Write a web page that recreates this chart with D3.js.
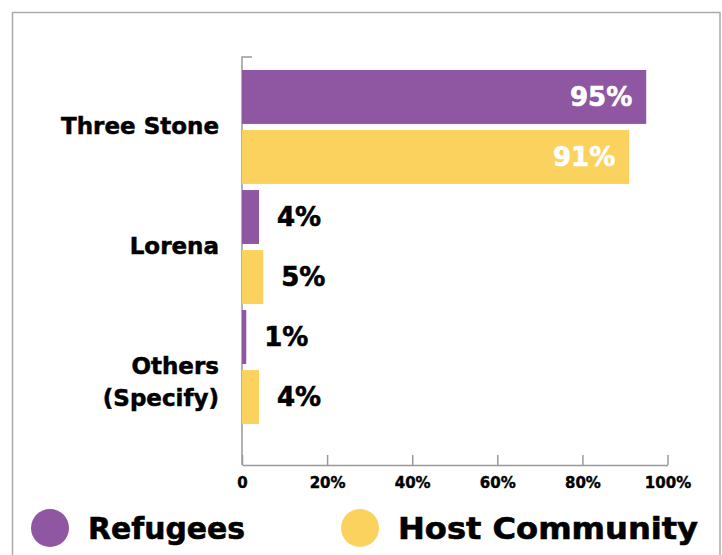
<!DOCTYPE html>
<html><head><meta charset="utf-8">
<script src="https://cdn.jsdelivr.net/npm/d3@7"></script>
<style>
body{margin:0;background:#fff;}
text{font-family:"DejaVu Sans",sans-serif;font-weight:bold;}
</style></head>
<body><svg id="c" width="722" height="555"></svg>
<script>
const categories = ["Three Stone","Lorena","Others (Specify)"];
const categoryLines = [["Three Stone"],["Lorena"],["Others","(Specify)"]];
const seriesNames = ["Refugees","Host Community"];
const refugees = [95,4,1];
const hostCommunity = [91,5,4];
const tickValues = [0,20,40,60,80,100];
const tickLabels = ["0","20%","40%","60%","80%","100%"];
const colors = ["#8F56A1","#FCD25F"];

const svg = d3.select("#c");
svg.append("rect").attr("x",12.5).attr("y",12.5).attr("width",707.5).attr("height",560)
  .attr("fill","none").attr("stroke","#aaa").attr("stroke-width",1.5);

const x = d3.scaleLinear().domain([0,100]).range([242,667.5]);
const yTop = 57, yBottom = 465;
const rows = [];
categories.forEach((c,i)=>{
  rows.push({cat:c,s:0,v:refugees[i],key:c+"|0"});
  rows.push({cat:c,s:1,v:hostCommunity[i],key:c+"|1"});
});
const yRow = d3.scaleBand().domain(rows.map(r=>r.key)).range([70,70+59*6]).paddingInner(6/59).paddingOuter(0);

// x axis
const xAxis = d3.axisBottom(x).tickValues(tickValues).tickFormat((d,i)=>tickLabels[i]).tickSize(0);
const gx = svg.append("g").attr("transform",`translate(0,${yBottom})`).call(xAxis);
gx.select(".domain").attr("stroke","#999").attr("stroke-width",1.5);
gx.selectAll(".tick text").attr("font-size",15).attr("fill","#000").attr("stroke","#000").attr("stroke-width",0.4).attr("dy","1.3em");
gx.selectAll(".tick").append("line").attr("y1",0).attr("y2",-10).attr("stroke","#999").attr("stroke-width",1.5);

// y axis line
svg.append("path").attr("d",`M252,${yTop}H${x(0)}V${yBottom}`).attr("fill","none").attr("stroke","#999").attr("stroke-width",1.5);

// bars
svg.selectAll("rect.bar").data(rows).join("rect").attr("class","bar")
  .attr("x",x(0)).attr("y",d=>yRow(d.key)).attr("width",d=>x(d.v)-x(0)).attr("height",yRow.bandwidth())
  .attr("fill",d=>colors[d.s]);

// value labels
svg.selectAll("text.val").data(rows).join("text").attr("class","val")
  .attr("x",d=>d.v>50 ? x(d.v)-14 : x(d.v)+18)
  .attr("y",d=>yRow(d.key)+yRow.bandwidth()/2)
  .attr("dy","0.36em")
  .attr("text-anchor",d=>d.v>50?"end":"start")
  .attr("font-size",26)
  .attr("fill",d=>d.v>50?"#fff":"#000")
  .attr("stroke",d=>d.v>50?"#fff":"#000").attr("stroke-width",0.6)
  .text(d=>d.v+"%");

// category labels
categories.forEach((c,i)=>{
  const yc = yRow(c+"|0") + (yRow(c+"|1")+yRow.bandwidth()-yRow(c+"|0"))/2;
  const lines = categoryLines[i];
  const t = svg.append("text").attr("x",219).attr("text-anchor","end").attr("font-size",23)
    .attr("fill","#000").attr("stroke","#000").attr("stroke-width",0.5);
  lines.forEach((l,j)=>{
    t.append("tspan").attr("x",219).attr("y",yc - 1 + j*32).attr("dy","0.36em").text(l);
  });
});

// legend
const legX = [50,360];
const legLen = [157,300];
seriesNames.forEach((n,i)=>{
  svg.append("circle").attr("cx",legX[i]).attr("cy",528).attr("r",19).attr("fill",colors[i]);
  svg.append("text").attr("x",legX[i]+38).attr("y",528).attr("dy","0.36em").attr("font-size",30)
    .attr("fill","#000").attr("stroke","#000").attr("stroke-width",0.6)
    .attr("textLength",legLen[i]).attr("lengthAdjust","spacingAndGlyphs").text(n);
});
</script></body></html>
